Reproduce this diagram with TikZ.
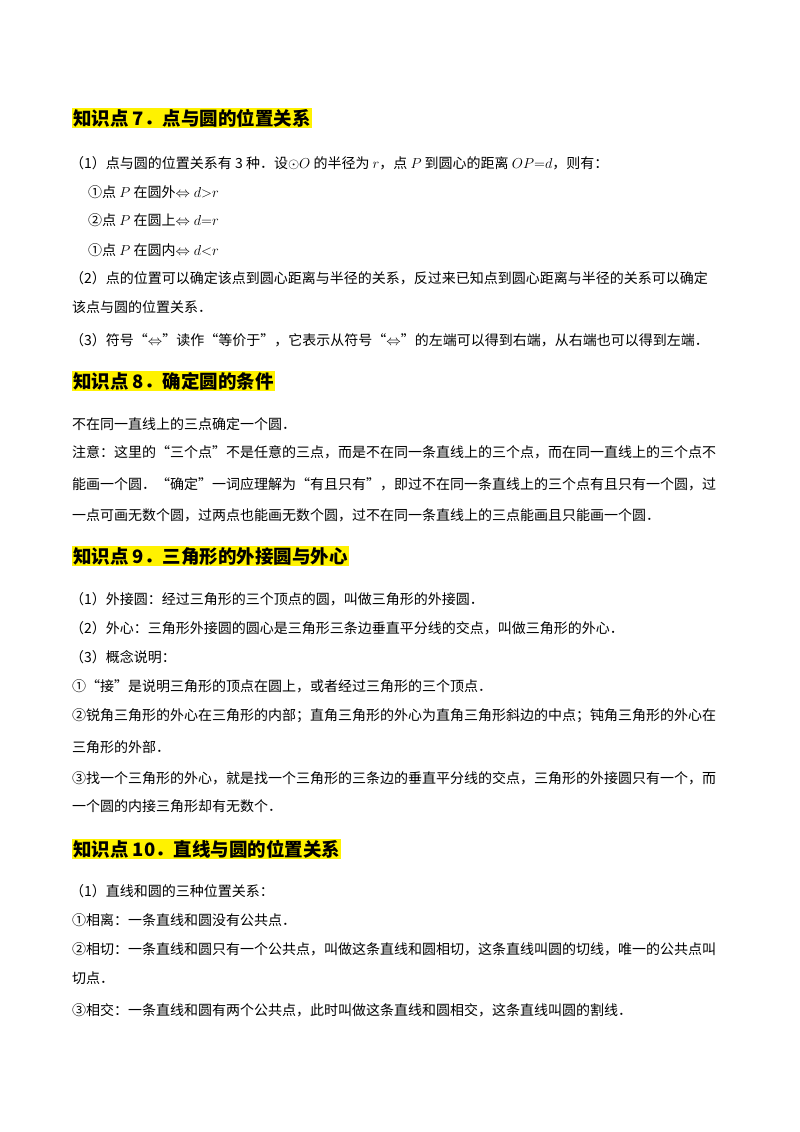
\documentclass[tikz,border=0pt]{standalone}
\usepackage{fontspec}
\setmainfont{Noto Sans CJK SC}
\usetikzlibrary{positioning}
\tikzset{
  body/.style={anchor=west, inner sep=0pt, font=\fontsize{14}{16}\selectfont},
  head/.style={anchor=west, inner sep=1pt, fill=yellow, font=\fontsize{18.5}{21}\selectfont\bfseries},
}
\begin{document}
\begin{tikzpicture}[x=1pt,y=-1pt]
\useasboundingbox (0,0) rectangle (800,1132);
%
\node[head] (h7) at (72,118) {知识点 7．点与圆的位置关系};
\node[body] (a1) at (70,163) {（1）点与圆的位置关系有 3 种．设$\odot O$ 的半径为 $r$，点 $P$ 到圆心的距离 $OP{=}d$，则有：};
\node[body] (a2) at (88,192) {①点 $P$ 在圆外$\Leftrightarrow d{>}r$};
\node[body] (a3) at (88,220) {②点 $P$ 在圆上$\Leftrightarrow d{=}r$};
\node[body] (a4) at (88,250) {①点 $P$ 在圆内$\Leftrightarrow d{<}r$};
\node[body] (a5) at (70,278) {（2）点的位置可以确定该点到圆心距离与半径的关系，反过来已知点到圆心距离与半径的关系可以确定};
\node[body] (a6) at (72,307) {该点与圆的位置关系．};
\node[body] (a7) at (70,340) {（3）符号“$\Leftrightarrow$”读作“等价于”，它表示从符号“$\Leftrightarrow$”的左端可以得到右端，从右端也可以得到左端．};
%
\node[head] (h8) at (72,381) {知识点 8．确定圆的条件};
\node[body] (b1) at (72,424) {不在同一直线上的三点确定一个圆．};
\node[body] (b2) at (72,452) {注意：这里的“三个点”不是任意的三点，而是不在同一条直线上的三个点，而在同一直线上的三个点不};
\node[body] (b3) at (72,484) {能画一个圆．“确定”一词应理解为“有且只有”，即过不在同一条直线上的三个点有且只有一个圆，过};
\node[body] (b4) at (72,515) {一点可画无数个圆，过两点也能画无数个圆，过不在同一条直线上的三点能画且只能画一个圆．};
%
\node[head] (h9) at (72,556) {知识点 9．三角形的外接圆与外心};
\node[body] (c1) at (70,599) {（1）外接圆：经过三角形的三个顶点的圆，叫做三角形的外接圆．};
\node[body] (c2) at (70,628) {（2）外心：三角形外接圆的圆心是三角形三条边垂直平分线的交点，叫做三角形的外心．};
\node[body] (c3) at (70,657) {（3）概念说明：};
\node[body] (c4) at (72,686) {①“接”是说明三角形的顶点在圆上，或者经过三角形的三个顶点．};
\node[body] (c5) at (72,716) {②锐角三角形的外心在三角形的内部；直角三角形的外心为直角三角形斜边的中点；钝角三角形的外心在};
\node[body] (c6) at (72,747) {三角形的外部．};
\node[body] (c7) at (72,778) {③找一个三角形的外心，就是找一个三角形的三条边的垂直平分线的交点，三角形的外接圆只有一个，而};
\node[body] (c8) at (72,806) {一个圆的内接三角形却有无数个．};
%
\node[head] (h10) at (72,849) {知识点 10．直线与圆的位置关系};
\node[body] (d1) at (70,891) {（1）直线和圆的三种位置关系：};
\node[body] (d2) at (72,920) {①相离：一条直线和圆没有公共点．};
\node[body] (d3) at (72,949) {②相切：一条直线和圆只有一个公共点，叫做这条直线和圆相切，这条直线叫圆的切线，唯一的公共点叫};
\node[body] (d4) at (72,978) {切点．};
\node[body] (d5) at (72,1010) {③相交：一条直线和圆有两个公共点，此时叫做这条直线和圆相交，这条直线叫圆的割线．};
\end{tikzpicture}
\end{document}
